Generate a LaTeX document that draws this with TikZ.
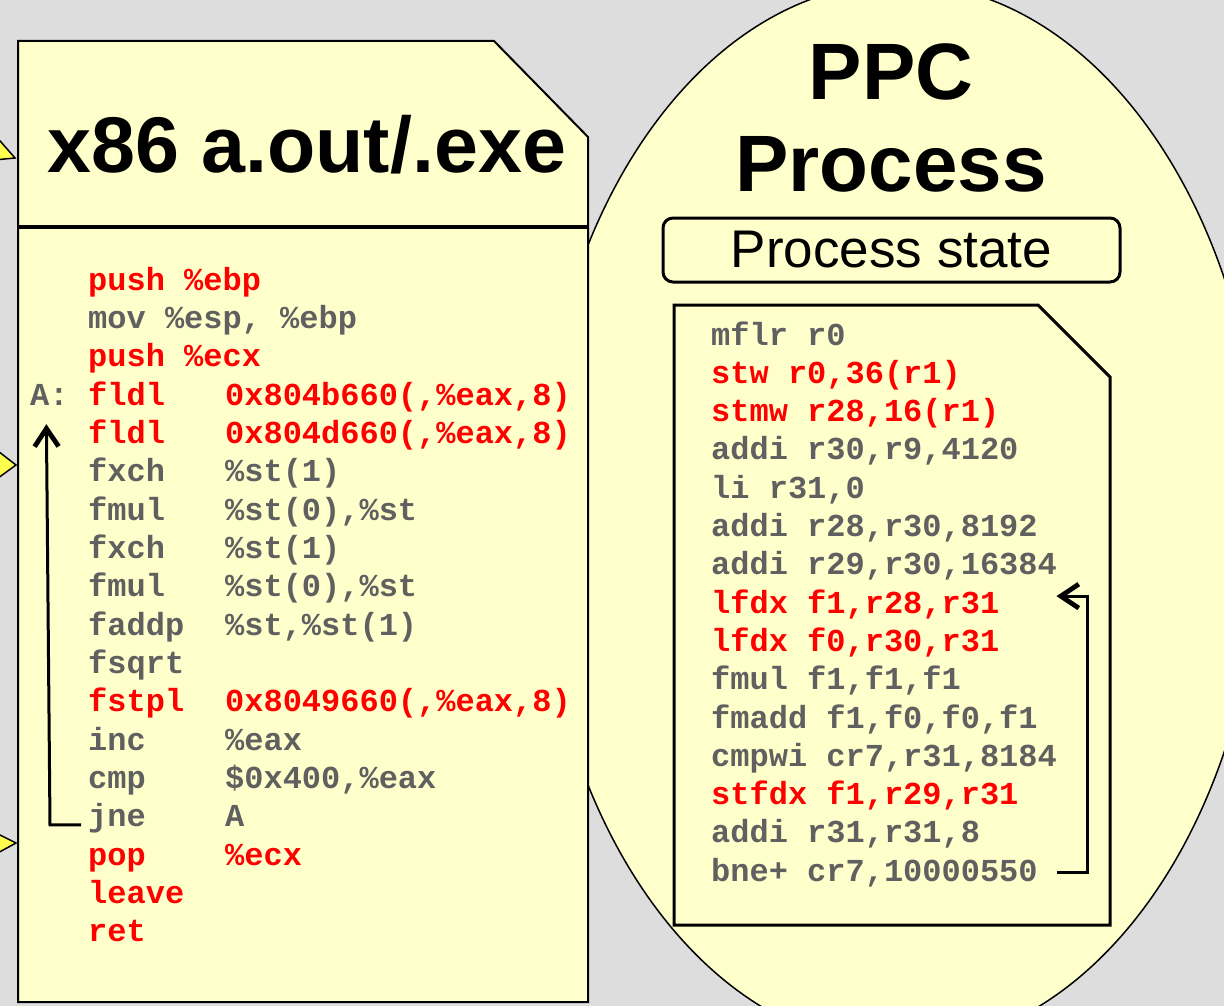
\documentclass[tikz,border=0pt]{standalone}
\usepackage{fontspec}
\setmainfont{Liberation Sans}
\setmonofont{Liberation Mono}
\usepackage{tikz}
\usetikzlibrary{arrows.meta}
\definecolor{bggray}{RGB}{221,221,221}
\definecolor{paleyellow}{RGB}{255,255,204}
\definecolor{pointyellow}{RGB}{255,255,80}
\definecolor{codered}{RGB}{255,0,0}
\definecolor{codegray}{RGB}{96,96,96}
\newcommand{\opcol}[1]{\makebox[137pt][l]{#1}}

\begin{document}
\begin{tikzpicture}[x=1pt,y=-1pt,
  code/.style={anchor=base west,inner sep=0pt,font=\fontsize{32}{38}\selectfont\ttfamily\bfseries},
  bigtitle/.style={anchor=base,inner sep=0pt,font=\fontsize{80}{90}\selectfont\bfseries},
  loopline/.style={line width=3pt,-{Straight Barb[length=18pt,width=24pt,line width=0pt 1.6]}},
  pointer/.style={draw=black,line width=1.5pt,fill=pointyellow}]
\useasboundingbox (0,0) rectangle (1224,1006);
\clip (0,0) rectangle (1224,1006);
\fill[bggray] (0,0) rectangle (1224,1006);

%draw process ellipse
\draw[fill=paleyellow,line width=1.5pt] (900,515) ellipse [x radius=362pt,y radius=532pt];

%draw pointers on the left edge
\draw[pointer] (-6,134) -- (15,158) -- (-6,160) -- cycle;
\draw[pointer] (-6,448) -- (16,465) -- (-6,481) -- cycle;
\draw[pointer] (-6,832) -- (16,843) -- (-6,855) -- cycle;

%draw x86 file
\draw[fill=paleyellow,line width=2pt] (18,41) -- (494,41) -- (588,137) -- (588,1002) -- (18,1002) -- cycle;
\draw[line width=3.5pt] (18,227) -- (588,227);
\node[bigtitle,font=\fontsize{79}{90}\selectfont\bfseries] (title) at (307,172) {x86 a.out/.exe};

%draw x86 code
\node[code,text=codegray] (alab) at (30,405) {A:};
\foreach \i/\c/\txt in {0/codered/{push \%ebp},
  1/codegray/{mov \%esp, \%ebp},
  2/codered/{push \%ecx},
  3/codered/{\opcol{fldl}0x804b660(,\%eax,8)},
  4/codered/{\opcol{fldl}0x804d660(,\%eax,8)},
  5/codegray/{\opcol{fxch}\%st(1)},
  6/codegray/{\opcol{fmul}\%st(0),\%st},
  7/codegray/{\opcol{fxch}\%st(1)},
  8/codegray/{\opcol{fmul}\%st(0),\%st},
  9/codegray/{\opcol{faddp}\%st,\%st(1)},
  10/codegray/{fsqrt},
  11/codered/{\opcol{fstpl}0x8049660(,\%eax,8)},
  12/codegray/{\opcol{inc}\%eax},
  13/codegray/{\opcol{cmp}\$0x400,\%eax},
  14/codegray/{\opcol{jne}A},
  15/codered/{\opcol{pop}\%ecx},
  16/codered/{leave},
  17/codered/{ret}}{
   \node[code,text=\c] (x\i) at (88,{290+\i*38.35}) {\txt};
}

%draw PPC process
\node[bigtitle] (ppc) at (891,100) {PPC};
\node[bigtitle] (proc) at (891,192) {Process};
\node[draw,line width=3pt,rounded corners=10pt,minimum width=457pt,minimum height=64pt,
  inner sep=0pt,font=\fontsize{53}{60}\selectfont] (pstate) at (891.5,250) {Process state};
\draw[fill=paleyellow,line width=3pt] (674,305) -- (1038,305) -- (1110,377) -- (1110,925) -- (674,925) -- cycle;

%draw PPC code
\foreach \i/\c/\txt in {0/codegray/{mflr r0},
  1/codered/{stw r0,36(r1)},
  2/codered/{stmw r28,16(r1)},
  3/codegray/{addi r30,r9,4120},
  4/codegray/{li r31,0},
  5/codegray/{addi r28,r30,8192},
  6/codegray/{addi r29,r30,16384},
  7/codered/{lfdx f1,r28,r31},
  8/codered/{lfdx f0,r30,r31},
  9/codegray/{fmul f1,f1,f1},
  10/codegray/{fmadd f1,f0,f0,f1},
  11/codegray/{cmpwi cr7,r31,8184},
  12/codered/{stfdx f1,r29,r31},
  13/codegray/{addi r31,r31,8},
  14/codegray/{bne+ cr7,10000550}}{
   \node[code,text=\c] (r\i) at (711,{345+\i*38.3}) {\txt};
}

%draw loop arrows
\draw[loopline] ([xshift=-7pt,yshift=2pt]x14.base west) -- ++(-31pt,0) -- ([xshift=-3pt,yshift=-19pt]alab.south);
\draw[loopline] ([xshift=19pt]r14.east) -- ++(31pt,0) |- ([xshift=57pt,yshift=8pt]r7.east);
\end{tikzpicture}
\end{document}
